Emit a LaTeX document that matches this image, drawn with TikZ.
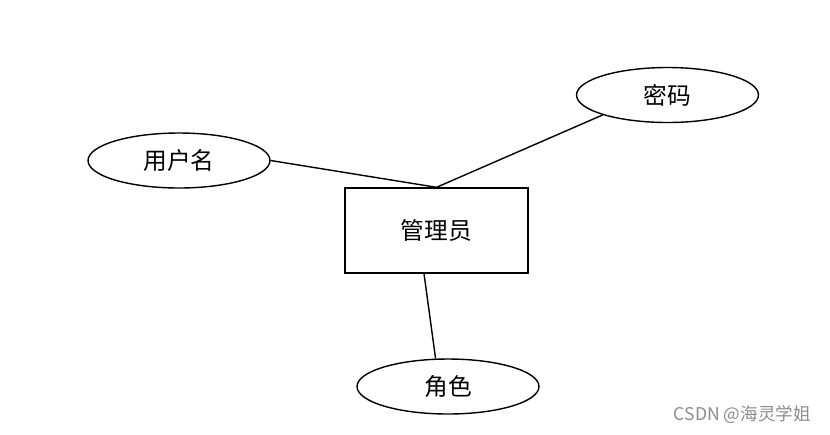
\documentclass[tikz,border=0pt]{standalone}
\usepackage{fontspec}
\newfontfamily\cjk{Noto Sans CJK SC}
\usetikzlibrary{positioning,shapes.geometric}
\tikzset{
  attr/.style={draw, ellipse, line width=0.8pt, minimum width=3.64cm, minimum height=1.1cm, inner sep=0pt},
  entitybox/.style={draw, rectangle, line width=0.8pt, minimum width=3.66cm, minimum height=1.7cm, inner sep=0pt},
  link/.style={line width=0.8pt},
  mark text/.style={font=\cjk\fontsize{10}{12}\selectfont, text=black!45, anchor=east}
}
\begin{document}
\begin{tikzpicture}[x=0.02cm, y=-0.02cm, every node/.style={font=\cjk\fontsize{13.5}{15}\selectfont}]
  \useasboundingbox (0,0) rectangle (830,434);
  \node[entitybox] (admin) at (436.5,230.5) {管理员};
  \node[attr] (user) at (179,160.5) {用户名};
  \node[attr] (pwd) at (667.5,95) {密码};
  \node[attr] (role) at (448,386.5) {角色};
  \draw[link] (user.east) -- (admin.north);
  \draw[link] (pwd.south west) -- (admin.north);
  \draw[link] ([xshift=-0.25cm]admin.south) -- (role.114);
  \node[mark text] (wm) at (817,415) {CSDN @海灵学姐};
\end{tikzpicture}
\end{document}
